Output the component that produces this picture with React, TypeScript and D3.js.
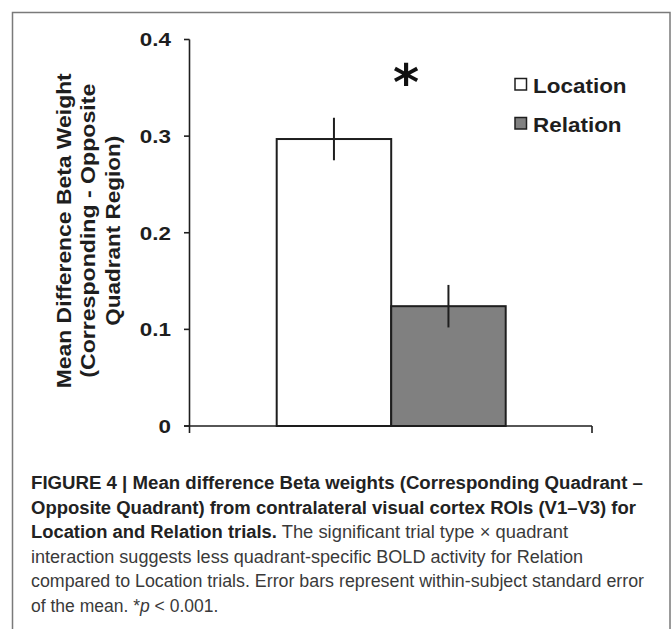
import React from "react";
import * as d3 from "d3";

const categories = ["Location", "Relation"];
const values = [0.297, 0.124];
const errors = [0.022, 0.022];
const fills = ["#ffffff", "#808080"];
const yTicks = [0, 0.1, 0.2, 0.3, 0.4];
const yTickLabels = ["0", "0.1", "0.2", "0.3", "0.4"];
const yLabelLines = ["Mean Difference Beta Weight", "(Corresponding - Opposite", "Quadrant Region)"];
const significance = "*";

const W = 672;
const H = 629;
const plotLeft = 189.5;
const plotRight = 592;
const plotTop = 39.5;
const plotBottom = 426;

const chartFont = "'Liberation Sans', Arial, sans-serif";
const starFont = "'DejaVu Sans', sans-serif";
const capFont = "'Liberation Sans', Arial, sans-serif";
const dark = "#1e1e1e";

export default function App() {
  const y = d3.scaleLinear().domain([0, 0.4]).range([plotBottom, plotTop]);
  const x = d3.scaleBand<string>().domain(categories).range([276.7, 505.7]).paddingInner(0).paddingOuter(0);

  const yLabelX = [63, 87.5, 112];
  const yLabelLen = [315, 294, 190];
  const yMid = (plotTop + plotBottom) / 2 - 2;

  return (
    <svg
      width={W}
      height={H}
      viewBox={`0 0 ${W} ${H}`}
      style={{ position: "absolute", left: 0, top: 0, background: "#fff" }}
    >
      {/* frame */}
      <rect x={12.5} y={12.5} width={657.5} height={640} fill="none" stroke="#7a7a7a" strokeWidth={1.5} />

      {/* bars */}
      {categories.map((c, i) => (
        <rect
          key={c}
          x={x(c)!}
          y={y(values[i])}
          width={x.bandwidth()}
          height={y(0) - y(values[i])}
          fill={fills[i]}
          stroke={dark}
          strokeWidth={2}
        />
      ))}

      {/* error bars */}
      {categories.map((c, i) => {
        const cx = x(c)! + x.bandwidth() / 2;
        return (
          <line
            key={"e" + c}
            x1={cx}
            x2={cx}
            y1={y(values[i] + errors[i])}
            y2={y(values[i] - errors[i])}
            stroke={dark}
            strokeWidth={2}
          />
        );
      })}

      {/* y axis */}
      <line x1={plotLeft} x2={plotLeft} y1={y(0.4)} y2={plotBottom + 7} stroke={dark} strokeWidth={1.6} />
      {yTicks.map((t, i) => (
        <g key={"t" + t}>
          <line x1={plotLeft - 5.5} x2={plotLeft} y1={y(t)} y2={y(t)} stroke={dark} strokeWidth={1.6} />
          <text
            transform={`translate(171,${y(t)}) scale(1.18,1)`}
            textAnchor="end"
            dominantBaseline="central"
            fontFamily={chartFont}
            fontWeight="bold"
            fontSize={19}
            fill={dark}
          >
            {yTickLabels[i]}
          </text>
        </g>
      ))}

      {/* x axis */}
      <line x1={plotLeft - 5.5} x2={plotRight} y1={y(0)} y2={y(0)} stroke={dark} strokeWidth={1.6} />
      <line x1={plotRight} x2={plotRight} y1={y(0)} y2={y(0) + 7} stroke={dark} strokeWidth={1.6} />

      {/* y label */}
      {yLabelLines.map((l, i) => (
        <text
          key={l}
          transform={`translate(${yLabelX[i]},${yMid}) rotate(-90)`}
          textAnchor="middle"
          dominantBaseline="central"
          fontFamily={chartFont}
          fontWeight="bold"
          fontSize={20.5}
          textLength={yLabelLen[i]}
          lengthAdjust="spacingAndGlyphs"
          fill={dark}
        >
          {l}
        </text>
      ))}

      {/* significance */}
      <text x={406} y={100} textAnchor="middle" fontFamily={starFont} fontWeight="bold" fontSize={50} fill="#111">
        {significance}
      </text>

      {/* legend */}
      {categories.map((c, i) => (
        <g key={"l" + c} transform={`translate(515,${78.5 + i * 39})`}>
          <rect x={0} y={0} width={11.5} height={11.5} fill={fills[i]} stroke={dark} strokeWidth={1.5} />
          <text
            transform="translate(18,14.8) scale(1.07,1)"
            fontFamily={chartFont}
            fontWeight="bold"
            fontSize={21}
            fill={dark}
          >
            {c}
          </text>
        </g>
      ))}

      {/* caption */}
      <g fontFamily={capFont} fontSize={17.5}>
        <text x={31} y={489} fontWeight="bold" fill="#222" textLength={612} lengthAdjust="spacingAndGlyphs">
          FIGURE 4 | Mean difference Beta weights (Corresponding Quadrant –
        </text>
        <text x={31} y={513.5} fontWeight="bold" fill="#222" textLength={605} lengthAdjust="spacingAndGlyphs">
          Opposite Quadrant) from contralateral visual cortex ROIs (V1–V3) for
        </text>
        <text x={31} y={538} fill="#3a3a3a" textLength={537} lengthAdjust="spacingAndGlyphs">
          <tspan fontWeight="bold" fill="#222">Location and Relation trials.</tspan>
          <tspan> The significant trial type × quadrant</tspan>
        </text>
        <text x={31} y={562.5} fill="#3a3a3a" textLength={552} lengthAdjust="spacingAndGlyphs">
          interaction suggests less quadrant-specific BOLD activity for Relation
        </text>
        <text x={31} y={587} fill="#3a3a3a" textLength={613} lengthAdjust="spacingAndGlyphs">
          compared to Location trials. Error bars represent within-subject standard error
        </text>
        <text x={31} y={611.5} fill="#3a3a3a">
          <tspan>of the mean. *</tspan>
          <tspan fontStyle="italic">p</tspan>
          <tspan> &lt; 0.001.</tspan>
        </text>
      </g>
    </svg>
  );
}
